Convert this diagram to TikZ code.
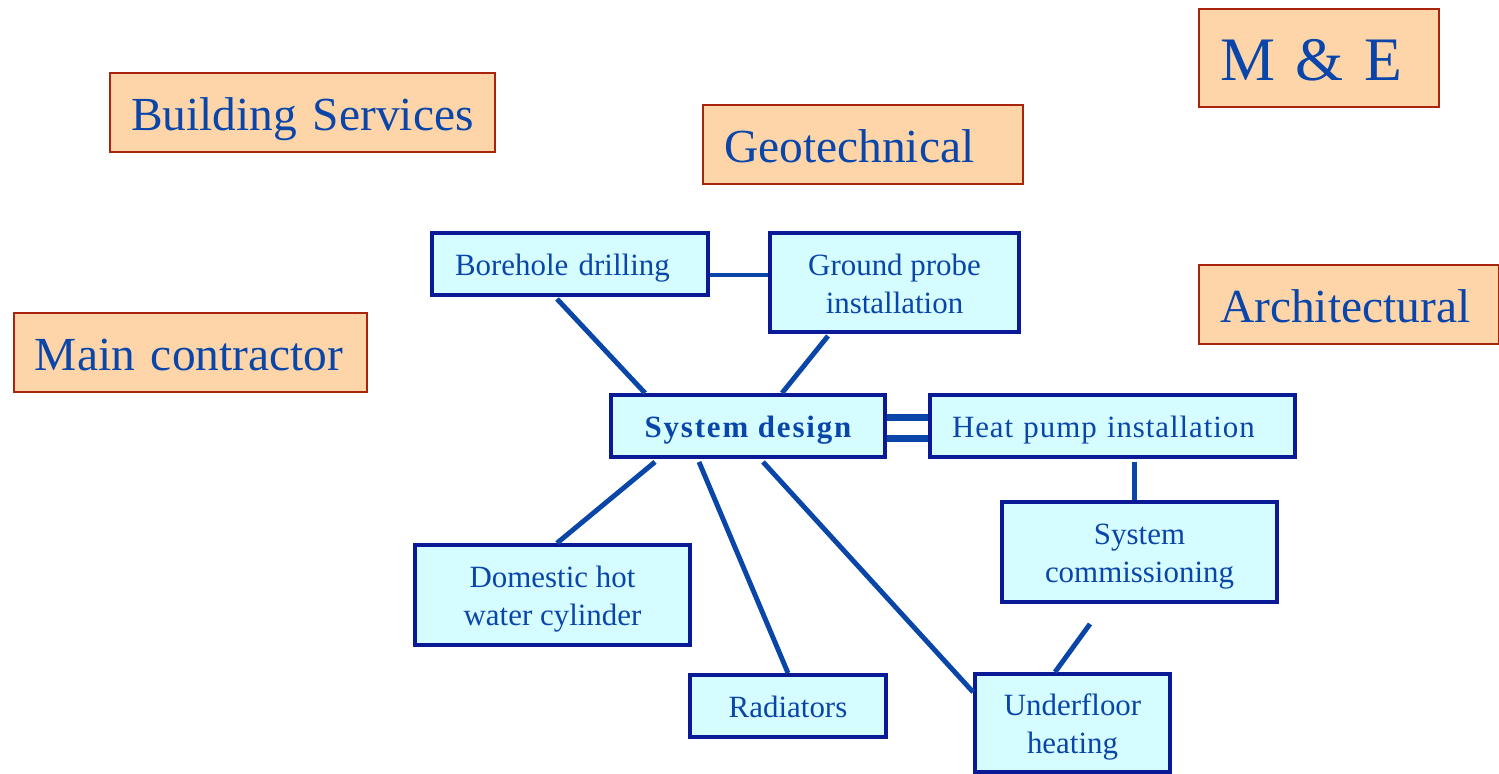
\documentclass[tikz,border=0pt]{standalone}
\usepackage{fontspec}
\setmainfont{Liberation Serif}
\usetikzlibrary{positioning,calc}

\definecolor{txtblue}{HTML}{0A46AA}
\definecolor{edgeblue}{HTML}{0A1A96}
\definecolor{lineblue}{HTML}{0A46A8}
\definecolor{cyanfill}{HTML}{D5FCFF}
\definecolor{orangefill}{HTML}{FED5A9}
\definecolor{orangeedge}{HTML}{A8240F}

\begin{document}
\begin{tikzpicture}[
    trade/.style={draw=orangeedge, fill=orangefill, line width=0.7pt, text=txtblue, font=\fontsize{13.5}{16}\selectfont, text width=#1, align=left, inner xsep=0.21cm, text height=12pt, text depth=1.9pt, minimum height=0.79cm},
    task/.style={draw=edgeblue, fill=cyanfill, line width=1.1pt, text=txtblue, font=\fontsize{8.8}{10.8}\selectfont, align=center, inner sep=0pt},
    oneline/.style={text height=8pt, text depth=1.74pt},
    twoline/.style={text height=17.4pt, text depth=0pt},
    link/.style={lineblue, line width=1.4pt},
    dlink/.style={lineblue, line width=2pt}
]
\useasboundingbox (0,0) rectangle (14.99,-7.73);

% trades
\node[trade=3.43cm] (bs) at (3.025,-1.125) {Building Services};
\node[trade=2.78cm] (geo) at (8.63,-1.445) {Geotechnical};
\node[trade=1.98cm, minimum height=0.98cm, font=\fontsize{17.6}{20}\selectfont, text height=13pt, text depth=0pt] (me) at (13.19,-0.58) {M \& E};
\node[trade=2.58cm] (arch) at (13.49,-3.045) {Architectural};
\node[trade=3.11cm] (mc) at (1.905,-3.525) {Main contractor};

% tasks
\node[task, oneline, minimum width=2.76cm, minimum height=0.62cm, text width=2.30cm, inner xsep=0.23cm, align=left] (bd) at (5.70,-2.64) {Borehole drilling};
\node[task, twoline, minimum width=2.49cm, minimum height=0.99cm] (gp) at (8.945,-2.825) {Ground probe\\installation};
\node[task, oneline, minimum width=2.74cm, minimum height=0.62cm, font=\fontsize{8.8}{10.8}\selectfont\bfseries\addfontfeature{LetterSpace=6}] (sd) at (7.48,-4.26) {System design};
\node[task, oneline, minimum width=3.65cm, minimum height=0.62cm, text width=3.21cm, inner xsep=0.22cm, align=left, font=\fontsize{8.8}{10.8}\selectfont\addfontfeature{LetterSpace=3}] (hp) at (11.125,-4.26) {Heat pump installation};
\node[task, twoline, minimum width=2.75cm, minimum height=1.00cm] (cm) at (11.395,-5.52) {System\\commissioning};
\node[task, twoline, minimum width=2.75cm, minimum height=1.00cm] (dhw) at (5.525,-5.95) {Domestic hot\\water cylinder};
\node[task, oneline, minimum width=1.96cm, minimum height=0.62cm] (rad) at (7.88,-7.06) {Radiators};
\node[task, twoline, minimum width=1.95cm, minimum height=0.98cm] (uf) at (10.725,-7.23) {Underfloor\\heating};

% links
\draw[link] ([yshift=-0.11cm]bd.east) -- ([yshift=-0.11cm]bd.east -| gp.west);
\draw[link] ([xshift=-0.13cm,yshift=-0.02cm]bd.south) -- ([xshift=0.36cm]sd.north west);
\draw[link] ([xshift=-0.665cm,yshift=-0.02cm]gp.south) -- ([xshift=0.34cm]sd.north);
\draw[dlink] ([yshift=0.09cm]sd.east) -- ([yshift=0.09cm]sd.east -| hp.west);
\draw[dlink] ([yshift=-0.12cm]sd.east) -- ([yshift=-0.12cm]sd.east -| hp.west);
\draw[link] ([xshift=-0.05cm]cm.north) -- ([xshift=-0.05cm,yshift=-0.03cm]cm.north |- hp.south);
\draw[link] ([xshift=-0.495cm,yshift=-0.2cm]cm.south) -- ([xshift=-0.175cm]uf.north);
\draw[link] ([xshift=-0.93cm,yshift=-0.03cm]sd.south) -- ([xshift=0.045cm]dhw.north);
\draw[link] ([xshift=-0.49cm,yshift=-0.03cm]sd.south) -- (rad.north);
\draw[link] ([xshift=0.15cm,yshift=-0.03cm]sd.south) -- ([yshift=-0.2cm]uf.north west);
\end{tikzpicture}
\end{document}
